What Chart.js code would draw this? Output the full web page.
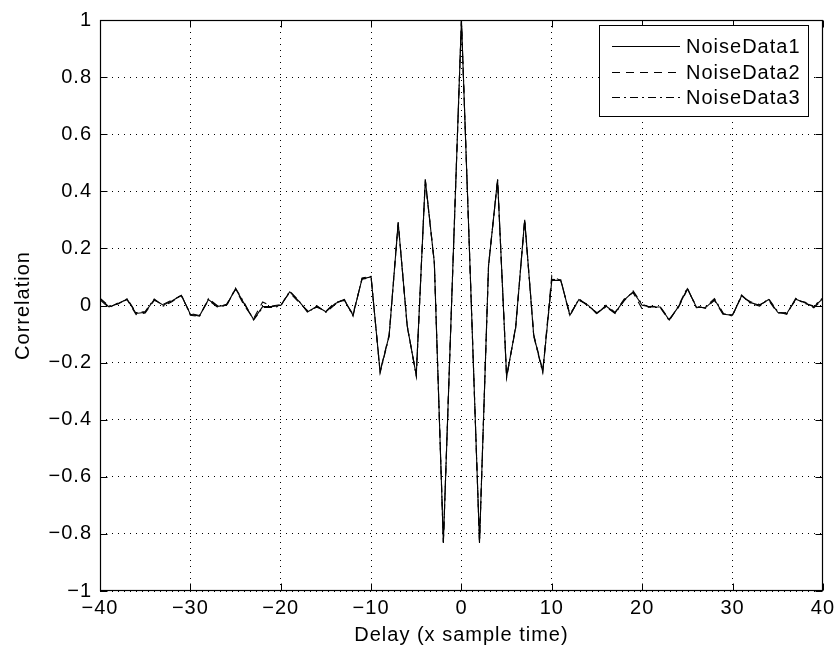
<!DOCTYPE html>
<html><head><meta charset="utf-8">
<script src="https://cdn.jsdelivr.net/npm/chart.js@4"></script>
<style>html,body{margin:0;padding:0;background:#fff}</style>
</head><body>
<canvas id="c" width="840" height="652"></canvas>
<script>
const lags = [-40,-39,-38,-37,-36,-35,-34,-33,-32,-31,-30,-29,-28,-27,-26,-25,-24,-23,-22,-21,-20,-19,-18,-17,-16,-15,-14,-13,-12,-11,-10,-9,-8,-7,-6,-5,-4,-3,-2,-1,0,1,2,3,4,5,6,7,8,9,10,11,12,13,14,15,16,17,18,19,20,21,22,23,24,25,26,27,28,29,30,31,32,33,34,35,36,37,38,39,40];

const noiseData1 = [0.024,-0.005,0.007,0.022,-0.028,-0.024,0.021,0.001,0.017,0.036,-0.031,-0.037,0.021,-0.003,0.001,0.059,0.004,-0.049,-0.004,-0.004,0.001,0.048,0.015,-0.022,-0.003,-0.022,0.006,0.021,-0.034,0.094,0.100,-0.233,-0.105,0.290,-0.072,-0.245,0.440,0.150,-0.830,0.090,1.000,0.090,-0.830,0.140,0.440,-0.250,-0.077,0.300,-0.105,-0.232,0.088,0.088,-0.034,0.021,0.001,-0.028,-0.002,-0.026,0.019,0.048,0.001,-0.005,-0.005,-0.051,-0.005,0.059,-0.005,-0.008,0.021,-0.031,-0.034,0.034,0.010,0.001,0.021,-0.024,-0.028,0.022,0.010,-0.005,0.024];

const noiseData2 = [0.020,-0.008,0.009,0.020,-0.032,-0.026,0.018,0.004,0.020,0.034,-0.028,-0.035,0.018,-0.006,0.004,0.056,-0.002,-0.046,0.012,-0.002,0.003,0.045,0.012,-0.019,-0.006,-0.020,0.010,0.018,-0.030,0.092,0.098,-0.230,-0.102,0.292,-0.075,-0.242,0.438,0.148,-0.828,0.088,1.000,0.088,-0.828,0.142,0.438,-0.247,-0.080,0.302,-0.102,-0.228,0.105,0.086,-0.030,0.018,0.004,-0.030,0.001,-0.024,0.022,0.045,-0.012,-0.003,-0.004,-0.048,-0.008,0.056,-0.002,-0.010,0.018,-0.034,-0.032,0.031,0.013,0.003,0.018,-0.027,-0.025,0.019,0.012,-0.008,0.021];

const noiseData3 = [0.026,-0.002,0.005,0.024,-0.025,-0.021,0.023,-0.002,0.014,0.038,-0.034,-0.039,0.024,-0.001,-0.002,0.061,0.008,-0.051,-0.007,-0.007,-0.002,0.050,0.017,-0.025,-0.001,-0.024,0.003,0.024,-0.037,0.096,0.102,-0.236,-0.108,0.288,-0.070,-0.248,0.442,0.152,-0.832,0.092,1.000,0.092,-0.832,0.138,0.442,-0.253,-0.074,0.298,-0.108,-0.235,0.092,0.090,-0.037,0.024,-0.002,-0.025,-0.005,-0.028,0.016,0.051,0.004,-0.007,-0.007,-0.053,-0.002,0.062,-0.008,-0.005,0.024,-0.028,-0.037,0.037,0.007,-0.002,0.024,-0.021,-0.031,0.025,0.007,-0.002,0.027];

const seriesNames = ['NoiseData1','NoiseData2','NoiseData3'];
const xTicks = [-40,-30,-20,-10,0,10,20,30,40];
const yTicks = [-1,-0.8,-0.6,-0.4,-0.2,0,0.2,0.4,0.6,0.8,1];
const xTitle = 'Delay (x sample time)';
const yTitle = 'Correlation';

const FONT = 'Liberation Sans, Arial, Helvetica, sans-serif';
const SPACING = '1px';
const dashes = [[], [8, 6], [8, 4, 2, 4]];

function fmt(v){
  const r = Math.round(v*10)/10;
  if (r === 0) return '0';
  return (r < 0 ? '\u2212' : '') + String(Math.abs(r));
}

const series = [noiseData1, noiseData2, noiseData3];
const datasets = series.map((vals, i) => ({
  label: seriesNames[i],
  data: lags.map((l, k) => ({x: l, y: vals[k]})),
  borderColor: '#000',
  backgroundColor: '#000',
  borderWidth: 1.1,
  borderDash: dashes[i],
  pointRadius: 0,
  tension: 0,
  fill: false
})).reverse();

const spacingPlugin = {
  id: 'spacing',
  beforeUpdate(chart){ chart.ctx.letterSpacing = SPACING; },
  beforeDraw(chart){ chart.ctx.letterSpacing = SPACING; }
};

const framePlugin = {
  id: 'frame',
  afterDatasetsDraw(chart){
    const {ctx, chartArea: a, scales: {x, y}} = chart;
    const L = Math.round(a.left)+0.5, R = Math.round(a.right)-0.5, T = Math.round(a.top)+0.5, B = Math.round(a.bottom)-0.5;
    ctx.save();
    ctx.strokeStyle = '#000'; ctx.lineWidth = 1; ctx.setLineDash([]);
    ctx.beginPath();
    xTicks.forEach(v => {
      const px = Math.round(x.getPixelForValue(v)) + 0.5;
      ctx.moveTo(px, B); ctx.lineTo(px, B - 7);
      ctx.moveTo(px, T); ctx.lineTo(px, T + 7);
    });
    yTicks.forEach(v => {
      const py = Math.round(y.getPixelForValue(v)) + 0.5;
      ctx.moveTo(L, py); ctx.lineTo(L + 7, py);
      ctx.moveTo(R, py); ctx.lineTo(R - 7, py);
    });
    ctx.stroke();
    ctx.lineWidth = 1.2;
    ctx.strokeRect(L, T, R - L, B - T);

    // legend
    const bx = 599.5, by = 25.5, bw = 209, bh = 91;
    ctx.lineWidth = 1;
    ctx.fillStyle = '#fff';
    ctx.fillRect(bx, by, bw, bh);
    ctx.strokeRect(bx, by, bw, bh);
    const rows = [46, 72, 97];
    ctx.font = '20px ' + FONT;
    ctx.letterSpacing = SPACING;
    ctx.textBaseline = 'middle';
    ctx.textAlign = 'left';
    seriesNames.forEach((name, i) => {
      ctx.beginPath();
      ctx.setLineDash(dashes[i]);
      ctx.lineWidth = 1.1;
      ctx.moveTo(612, rows[i] + 0.5); ctx.lineTo(680, rows[i] + 0.5);
      ctx.stroke();
      ctx.setLineDash([]);
      ctx.fillStyle = '#000';
      ctx.fillText(name, 686, rows[i] + 1);
    });
    ctx.restore();
  }
};

new Chart(document.getElementById('c'), {
  type: 'line',
  data: {datasets},
  plugins: [spacingPlugin, framePlugin],
  options: {
    responsive: false,
    animation: false,
    devicePixelRatio: 1,
    layout: {padding: {left: 0, right: 15, top: 14, bottom: 0}},
    plugins: {legend: {display: false}, tooltip: {enabled: false}},
    scales: {
      x: {
        type: 'linear', min: -40, max: 40,
        afterBuildTicks: s => { s.ticks = xTicks.map(v => ({value: v})); },
        afterFit: s => { s.height = 61; },
        ticks: {callback: v => fmt(v), color: '#000', font: {family: FONT, size: 20}, padding: 5, maxRotation: 0, autoSkip: false},
        grid: {color: '#000', lineWidth: 1, drawTicks: false},
        border: {display: false, dash: [1, 5]},
        title: {display: true, text: xTitle, color: '#000', font: {family: FONT, size: 20}, padding: {top: 0, bottom: 5}}
      },
      y: {
        type: 'linear', min: -1, max: 1,
        afterBuildTicks: s => { s.ticks = yTicks.map(v => ({value: v})); },
        afterFit: s => { s.width = 100; },
        ticks: {callback: v => fmt(v), color: '#000', font: {family: FONT, size: 20}, padding: 8, autoSkip: false},
        grid: {color: '#000', lineWidth: 1, drawTicks: false},
        border: {display: false, dash: [1, 5]},
        title: {display: true, text: yTitle, color: '#000', font: {family: FONT, size: 20}, padding: {top: 11, bottom: 0}}
      }
    }
  }
});
</script>
</body></html>
